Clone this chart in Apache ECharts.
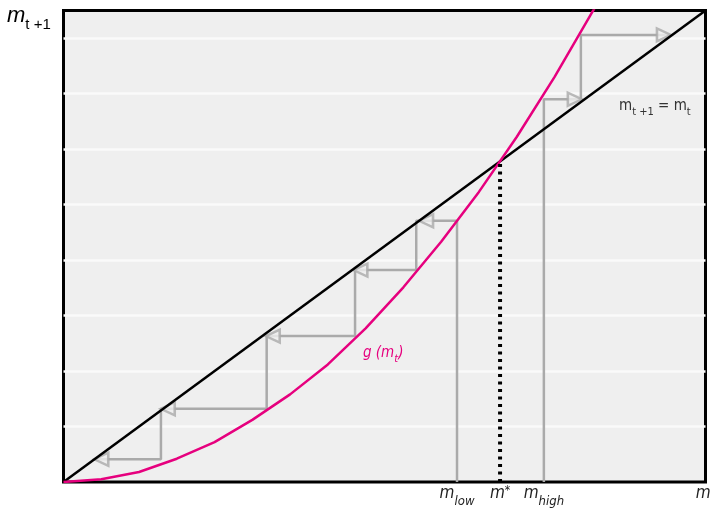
<!DOCTYPE html>
<html>
<head>
<meta charset="utf-8">
<script src="https://cdn.jsdelivr.net/npm/echarts@6/dist/echarts.min.js"></script>
<style>
html, body { margin: 0; padding: 0; background: #fff; }
#chart { width: 711px; height: 508px; }
</style>
</head>
<body>
<div id="chart"></div>
<script>
// g(m_t) curve
var curveX = [0, 0.5, 1.0, 1.5, 2.0, 2.5, 3.0, 3.5, 4.0, 4.5, 5.0, 5.5, 6.0, 6.5, 7.0, 7.1];
var curveY = [0, 0.05, 0.18, 0.42, 0.72, 1.12, 1.58, 2.12, 2.77, 3.51, 4.33, 5.23, 6.22, 7.30, 8.47, 8.70];
// m_{t+1} = m_t
var diagX = [0, 8.5];
var diagY = [0, 8.5];
// cobweb from m_low (goes down) and from m_high (goes up)
var lowStepX = [5.21, 5.21, 4.67, 4.67, 3.86, 3.86, 2.69, 2.69, 1.29, 1.29, 0.42];
var lowStepY = [0, 4.71, 4.71, 3.82, 3.82, 2.63, 2.63, 1.32, 1.32, 0.41, 0.41];
var highStepX = [6.36, 6.36, 6.85, 6.85, 8.03];
var highStepY = [0, 6.90, 6.90, 8.06, 8.06];
var arrowLeftX = [4.80, 3.93, 2.77, 1.38, 0.50];
var arrowLeftY = [4.71, 3.82, 2.63, 1.32, 0.41];
var arrowRightX = [6.77, 7.95];
var arrowRightY = [6.90, 8.06];
var mStar = 5.78;
// x tick labels
var tickValues = [5.21, 5.78, 6.36, 8.5];
var tickNames = ['{m|m}{s|low}', '{m|m}{p|*}', '{m|m}{s|high}', '{m|m}{s|t}'];

var gray = '#aaaaaa';
var pink = '#e6007e';
var bg = '#efefef';
var narrow = "'Liberation Sans Narrow', 'DejaVu Sans Condensed', Roboto, sans-serif";

function pairs(xs, ys) {
	return xs.map(function(x, i) {
		return [x, ys[i]];
	});
}

var charts = echarts.init(document.getElementById('chart'), null, { renderer: 'canvas' });

var option = {
	animation: false,
	backgroundColor: '#fff',
	grid: {
		left: 63.5,
		top: 10.5,
		right: 5.5,
		bottom: 26,
		outerBoundsMode: 'none',
		containLabel: false,
		show: true,
		backgroundColor: bg,
		borderColor: '#000',
		borderWidth: 3,
		z: 0
	},
	xAxis: {
		type: 'value',
		min: 0,
		max: 8.5,
		axisLine: { show: false },
		axisTick: { show: false },
		splitLine: { show: false },
		axisLabel: {
			customValues: tickValues,
			margin: 3,
			verticalAlign: 'top',
			hideOverlap: false,
			formatter: function(v) {
				for (var i = 0; i < tickValues.length; i++) {
					if (Math.abs(tickValues[i] - v) < 1e-6) return tickNames[i];
				}
				return '';
			},
			rich: {
				m: { fontFamily: narrow, fontStyle: 'italic', fontSize: 17, color: '#222', lineHeight: 18, verticalAlign: 'top' },
				s: { fontFamily: narrow, fontStyle: 'italic', fontSize: 13, color: '#222', lineHeight: 23, verticalAlign: 'bottom' },
				p: { fontFamily: narrow, fontStyle: 'italic', fontSize: 12, color: '#222', lineHeight: 12, verticalAlign: 'top' }
			}
		}
	},
	yAxis: {
		type: 'value',
		min: 0,
		max: 8.5,
		interval: 1,
		axisLine: { show: false },
		axisTick: { show: false },
		axisLabel: { show: false },
		splitLine: { show: true, showMinLine: false, showMaxLine: false, lineStyle: { color: '#fafafa', width: 2.5 } }
	},
	graphic: [{
		type: 'text',
		left: 7,
		top: 5,
		style: {
			text: '{m|m}{s|t +1}',
			rich: {
				m: { fontFamily: 'Liberation Sans, sans-serif', fontStyle: 'italic', fontSize: 22, fill: '#000', lineHeight: 24, verticalAlign: 'top' },
				s: { fontFamily: 'Liberation Sans, sans-serif', fontSize: 15, fill: '#000', lineHeight: 27, verticalAlign: 'bottom' }
			}
		}
	}, {
		type: 'text',
		left: 619,
		top: 99,
		style: {
			text: '{m|m}{s|t +1}{m| = m}{s|t}',
			rich: {
				m: { fontFamily: narrow, fontSize: 15, fill: '#333', lineHeight: 17, verticalAlign: 'top' },
				s: { fontFamily: narrow, fontSize: 11, fill: '#333', lineHeight: 19, verticalAlign: 'bottom' }
			}
		}
	}, {
		type: 'text',
		left: 363,
		top: 346,
		style: {
			text: '{m|g (m}{s|t}{m|)}',
			rich: {
				m: { fontFamily: narrow, fontStyle: 'italic', fontSize: 15, fill: pink, lineHeight: 17, verticalAlign: 'top' },
				s: { fontFamily: narrow, fontStyle: 'italic', fontSize: 11, fill: pink, lineHeight: 19, verticalAlign: 'bottom' }
			}
		}
	}],
	series: [{
		type: 'line',
		data: pairs(lowStepX, lowStepY),
		symbol: 'none',
		lineStyle: { color: gray, width: 2.5 },
		z: 2
	}, {
		type: 'line',
		data: pairs(highStepX, highStepY),
		symbol: 'none',
		lineStyle: { color: gray, width: 2.5 },
		z: 2
	}, {
		type: 'scatter',
		data: pairs(arrowLeftX, arrowLeftY),
		symbol: 'triangle',
		symbolSize: [13, 14],
		symbolRotate: 90,
		itemStyle: { color: bg, borderColor: gray, borderWidth: 2.5 },
		z: 3
	}, {
		type: 'scatter',
		data: pairs(arrowRightX, arrowRightY),
		symbol: 'triangle',
		symbolSize: [13, 14],
		symbolRotate: -90,
		itemStyle: { color: bg, borderColor: gray, borderWidth: 2.5 },
		z: 3
	}, {
		type: 'line',
		data: pairs(diagX, diagY),
		symbol: 'none',
		lineStyle: { color: '#000', width: 2.5 },
		z: 4
	}, {
		type: 'line',
		data: pairs(curveX, curveY),
		symbol: 'none',
		lineStyle: { color: pink, width: 2.5 },
		z: 5
	}, {
		type: 'line',
		data: [[mStar, 0], [mStar, mStar]],
		symbol: 'none',
		lineStyle: { color: '#000', width: 4, type: [3, 4.5] },
		z: 5
	}]
};

charts.setOption(option, true);
</script>
</body>
</html>
